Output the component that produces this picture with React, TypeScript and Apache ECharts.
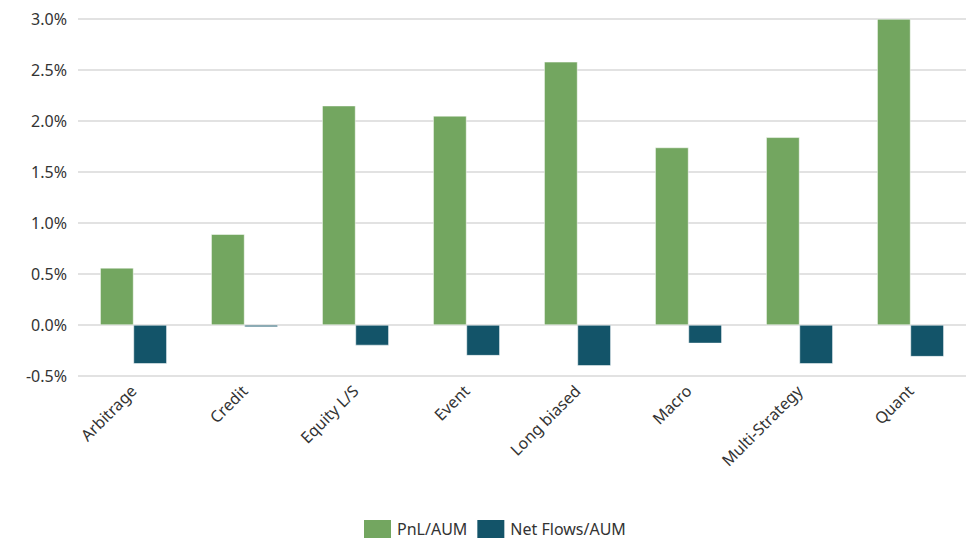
import React, { useEffect, useRef } from "react";
import * as echarts from "echarts";

const categories = ["Arbitrage", "Credit", "Equity L/S", "Event", "Long biased", "Macro", "Multi-Strategy", "Quant"];
const pnlAum = [0.56, 0.89, 2.15, 2.05, 2.58, 1.74, 1.84, 3.0];
const netFlowsAum = [-0.38, -0.02, -0.2, -0.3, -0.4, -0.18, -0.38, -0.31];

export default function App() {
  const ref = useRef<HTMLDivElement>(null);
  useEffect(() => {
    const chart = echarts.init(ref.current!, null, { renderer: "svg" });
    chart.setOption({
      animation: false,
      textStyle: { fontFamily: "Noto Sans" },
      grid: { left: 78, right: 4, top: 19, bottom: 165, containLabel: false },
      legend: {
        left: 362,
        bottom: 1,
        padding: 0,
        itemWidth: 29,
        itemHeight: 20,
        itemGap: 8,
        icon: "rect",
        textStyle: { fontSize: 16, color: "#333", fontFamily: "Noto Sans" },
        data: ["PnL/AUM", "Net Flows/AUM"],
      },
      xAxis: {
        type: "category",
        data: categories,
        axisLine: { show: false },
        axisTick: { show: false },
        axisLabel: { rotate: 45, fontSize: 16, color: "#333", margin: 12, interval: 0 },
      },
      yAxis: {
        type: "value",
        min: -0.5,
        max: 3.0,
        interval: 0.5,
        axisLine: { show: false },
        axisTick: { show: false },
        splitLine: { lineStyle: { color: "#d9d9d9", width: 1.5 } },
        axisLabel: {
          fontSize: 16,
          color: "#333",
          margin: 11,
          formatter: (v: number) => v.toFixed(1) + "%",
        },
      },
      series: [
        {
          name: "PnL/AUM",
          type: "bar",
          data: pnlAum,
          barWidth: "30%",
          barGap: "0%",
          clip: false,
          itemStyle: { color: "#73a660", borderColor: "#ffffff", borderWidth: 0.5 },
        },
        {
          name: "Net Flows/AUM",
          type: "bar",
          data: netFlowsAum,
          barWidth: "30%",
          barGap: "0%",
          clip: false,
          itemStyle: { color: "#135469", borderColor: "#ffffff", borderWidth: 0.5 },
        },
      ],
    });
    return () => chart.dispose();
  }, []);
  return <div ref={ref} style={{ width: 970, height: 541, position: "absolute", left: 0, top: 0 }} />;
}
